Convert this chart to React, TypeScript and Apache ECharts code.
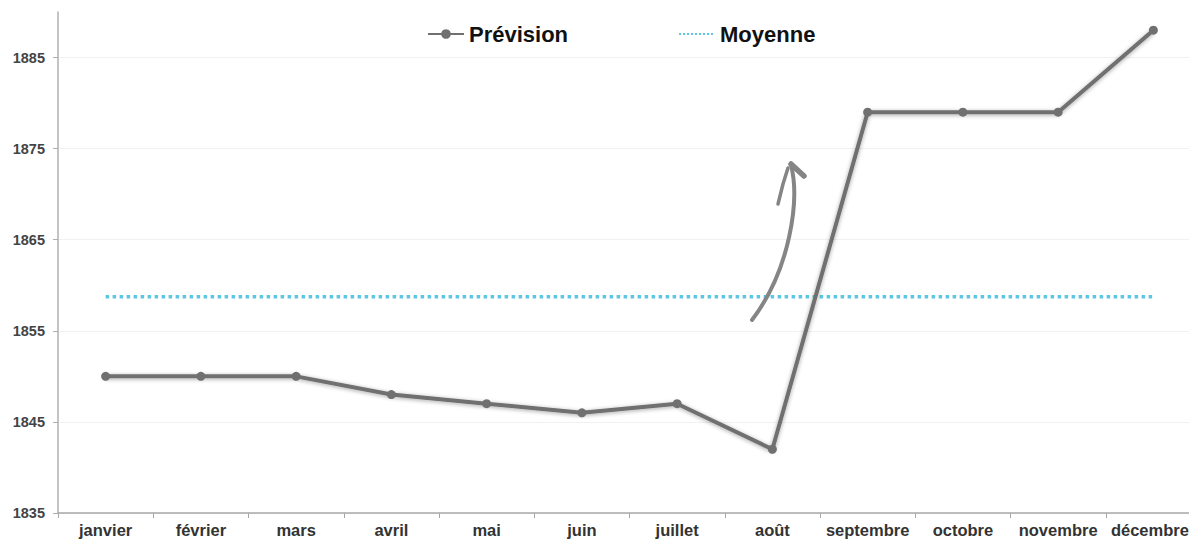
import React, { useEffect, useRef } from "react";
import * as echarts from "echarts";

// Months of the forecast
const months = [
  "janvier", "février", "mars", "avril", "mai", "juin",
  "juillet", "août", "septembre", "octobre", "novembre", "décembre",
];

// Forecast values per month
const prevision = [1850, 1850, 1850, 1848, 1847, 1846, 1847, 1842, 1879, 1879, 1879, 1888];

// Mean of the forecast, drawn as a flat reference line
const moyenneValue = prevision.reduce((a, b) => a + b, 0) / prevision.length;
const moyenne = months.map(() => moyenneValue);

// Y axis range and step
const yMin = 1835;
const yMax = 1890;
const yStep = 10;

const FONT = "'Liberation Sans', Arial, sans-serif";

const monthLabelStyle = {
  fontFamily: FONT,
  fontSize: 16.5,
  fontWeight: "bold",
  color: "#333",
};

export default function App() {
  const ref = useRef<HTMLDivElement>(null);

  useEffect(() => {
    if (!ref.current) return;
    const chart = echarts.init(ref.current, null, { renderer: "svg" });
    chart.setOption({
      animation: false,
      backgroundColor: "#ffffff",
      textStyle: { fontFamily: FONT },
      legend: {
        top: 18,
        left: 422,
        itemGap: 110,
        itemWidth: 36,
        itemHeight: 12,
        textStyle: { fontFamily: FONT, fontSize: 22, fontWeight: "bold", color: "#111" },
        data: [
          { name: "Prévision" },
          { name: "Moyenne", itemStyle: { opacity: 0 } },
        ],
      },
      // The plot runs a little past the right edge of the page
      grid: { left: 58, right: -12, top: 12, bottom: 32, outerBoundsMode: "none", containLabel: false },
      xAxis: {
        type: "category",
        data: months,
        boundaryGap: true,
        axisLine: { lineStyle: { color: "#a8a8a8", width: 1.5 } },
        axisTick: { show: true, length: 5, lineStyle: { color: "#a8a8a8" } },
        axisLabel: {
          ...monthLabelStyle,
          margin: 8,
          interval: 0,
          hideOverlap: false,
          // nudge the last month inward so it stays on the page
          formatter: (v: string, i: number) => (i === months.length - 1 ? `{last|${v}}` : v),
          rich: {
            last: { ...monthLabelStyle, padding: [0, 7, 0, 0] },
          },
        },
      },
      yAxis: {
        type: "value",
        min: yMin,
        max: yMax,
        interval: yStep,
        axisLine: { show: true, lineStyle: { color: "#b0b0b0", width: 1.5 } },
        axisTick: { show: true, length: 5, lineStyle: { color: "#b0b0b0" } },
        axisLabel: {
          fontFamily: FONT,
          fontSize: 14.5,
          fontWeight: "bold",
          color: "#444",
          margin: 13,
          showMaxLabel: false,
          formatter: (v: number) => String(v),
        },
        splitLine: {
          show: true,
          lineStyle: {
            color: ["#f1f1f1", "#f1f1f1", "#f1f1f1", "#f1f1f1", "#f1f1f1", "#f1f1f1", "transparent"],
            width: 1,
          },
        },
      },
      series: [
        {
          name: "Prévision",
          type: "line",
          data: prevision,
          symbol: "circle",
          symbolSize: 9,
          itemStyle: { color: "#707070" },
          lineStyle: {
            color: "#707070",
            width: 4,
            shadowBlur: 4,
            shadowColor: "rgba(0,0,0,0.35)",
            shadowOffsetY: 1,
          },
          z: 3,
        },
        {
          name: "Moyenne",
          type: "line",
          data: moyenne,
          symbol: "none",
          itemStyle: { color: "#5cc6e4" },
          lineStyle: { color: "#5cc6e4", width: 3.5, type: "dotted" },
          z: 2,
        },
      ],
      graphic: [
        {
          type: "bezierCurve",
          shape: { x1: 752, y1: 320, cpx1: 790, cpy1: 270, cpx2: 800, cpy2: 200, x2: 791, y2: 165 },
          style: { stroke: "#858585", lineWidth: 4, fill: null, lineCap: "round" },
          z: 10,
        },
        {
          type: "polyline",
          shape: { points: [[791, 164], [804, 176]] },
          style: { stroke: "#858585", lineWidth: 5.5, lineCap: "round" },
          z: 10,
        },
        {
          type: "polyline",
          shape: { points: [[788, 168], [783, 184], [778, 204]] },
          style: { stroke: "#858585", lineWidth: 3.5, lineCap: "round" },
          z: 10,
        },
      ],
    });
    return () => chart.dispose();
  }, []);

  return (
    <div
      ref={ref}
      style={{ position: "absolute", left: 0, top: 0, width: 1189, height: 545 }}
    />
  );
}
